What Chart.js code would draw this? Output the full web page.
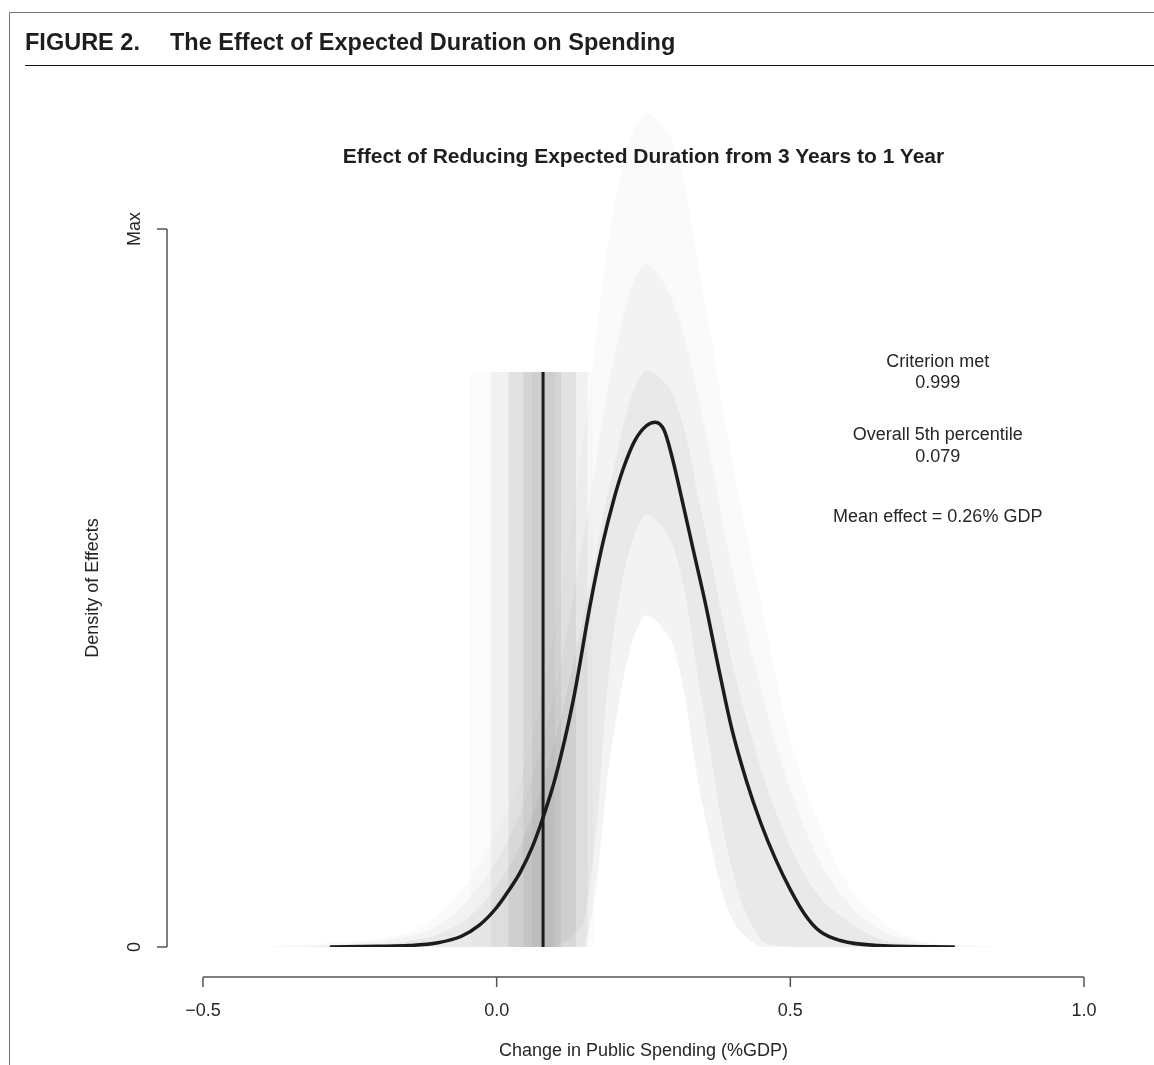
<!DOCTYPE html>
<html>
<head>
<meta charset="utf-8">
<script src="https://cdn.jsdelivr.net/npm/chart.js@4"></script>
<style>
    body { margin: 0; background: #fff; }
    #page { position: relative; width: 1154px; height: 1065px; overflow: hidden; font-family: "Liberation Sans", Arial, sans-serif; color: #1e1e1e; }
    #frame { position: absolute; left: 9px; top: 12px; right: -5px; bottom: -5px; border-left: 1.5px solid #777; border-top: 1.5px solid #777; }
    #fig-title { position: absolute; left: 25px; top: 30px; font-weight: bold; font-size: 23.5px; line-height: 24px; white-space: nowrap; }
    #fig-title .num { display: inline-block; width: 145px; }
    #rule { position: absolute; left: 25px; right: 0; top: 65px; border-top: 1.5px solid #111; }
    #plot-title { position: absolute; left: 203px; width: 881px; top: 143px; text-align: center; font-weight: bold; font-size: 21px; line-height: 26px; white-space: nowrap; }
    #chart { position: absolute; left: 0; top: 0; }
</style>
</head>
<body>
<div id="page">
    <canvas id="chart" width="1154" height="1065"></canvas>
    <div id="frame"></div>
    <div id="fig-title"><span class="num">FIGURE 2.</span>The Effect of Expected Duration on Spending</div>
    <div id="rule"></div>
    <div id="plot-title">Effect of Reducing Expected Duration from 3 Years to 1 Year</div>
</div>
<script>
// mean density of the simulated effects (x in % GDP, height as share of Max)
var meanX = [-0.284, -0.2, -0.15, -0.1, -0.06, -0.03, 0.0, 0.02, 0.04, 0.06, 0.078, 0.1, 0.13, 0.16, 0.18, 0.2,
    0.215, 0.235, 0.255, 0.27, 0.285, 0.3, 0.315, 0.335, 0.355, 0.375, 0.4, 0.425, 0.45, 0.475, 0.5, 0.525,
    0.55, 0.585, 0.65, 0.78];
var meanDensity = [0, 0.001, 0.002, 0.006, 0.015, 0.03, 0.055, 0.078, 0.104, 0.138, 0.178, 0.236, 0.342, 0.48, 0.56, 0.625,
    0.665, 0.705, 0.726, 0.731, 0.72, 0.678, 0.625, 0.552, 0.48, 0.4, 0.305, 0.232, 0.172, 0.122, 0.08, 0.045,
    0.022, 0.009, 0.002, 0];

// spread of the individual simulated densities (grey cloud)
var cloudX = [-0.4, -0.35, -0.3, -0.25, -0.2, -0.15, -0.1, -0.05, 0.0, 0.05, 0.1, 0.15, 0.2, 0.25,
    0.3, 0.35, 0.4, 0.45, 0.5, 0.55, 0.6, 0.65, 0.7, 0.75, 0.8, 0.85, 0.9];
var cloudOuter = [0, 0.002, 0.005, 0.008, 0.012, 0.02, 0.045, 0.09, 0.16, 0.26, 0.45, 0.72, 1.03, 1.16,
    1.12, 0.92, 0.68, 0.48, 0.29, 0.17, 0.085, 0.04, 0.015, 0.004, 0.002, 0.001, 0];
var cloudMiddle = [0, 0.001, 0.002, 0.005, 0.008, 0.015, 0.03, 0.065, 0.12, 0.21, 0.36, 0.58, 0.82, 0.95,
    0.9, 0.74, 0.53, 0.36, 0.22, 0.12, 0.06, 0.025, 0.01, 0.003, 0.001, 0, 0];
var cloudNear = [0, 0, 0.001, 0.002, 0.004, 0.008, 0.018, 0.04, 0.085, 0.16, 0.29, 0.47, 0.67, 0.8,
    0.77, 0.6, 0.4, 0.25, 0.14, 0.07, 0.035, 0.012, 0.004, 0.001, 0, 0, 0];
// lower edges of the cloud: the white pocket under the peak
var cloudFloor = [0, 0, 0, 0, 0, 0, 0, 0, 0, 0, 0, 0, 0.3, 0.46,
    0.42, 0.2, 0.04, 0, 0, 0, 0, 0, 0, 0, 0, 0, 0];
var cloudFloorHigh = [0, 0, 0, 0, 0, 0, 0, 0, 0, 0, 0, 0.04, 0.44, 0.6,
    0.56, 0.34, 0.11, 0.01, 0, 0, 0, 0, 0, 0, 0, 0, 0];

// overall 5th percentile and the spread of the per-draw 5th percentiles
var percentile5 = 0.079;
var percentileHeight = 0.801;
var bandLow = [-0.045, -0.01, 0.02, 0.045, 0.06];
var bandHigh = [0.165, 0.155, 0.135, 0.11, 0.1];

var xTicks = [-0.5, 0.0, 0.5, 1.0];
var xTickLabels = ['\u22120.5', '0.0', '0.5', '1.0'];
var yTicks = [0, 1];
var yTickLabels = ['0', 'Max'];
var notes = ['Criterion met', '0.999', 'Overall 5th percentile', '0.079', 'Mean effect = 0.26% GDP'];

function pairs(xs, ys) {
    return xs.map(function (x, i) { return { x: x, y: ys[i] }; });
}

var bandShades = [0.02, 0.05, 0.075, 0.08, 0.06];
var datasets = [];

// cloud: datasets 0 and 1 are the lower edges, the others fill down to them
datasets.push({ data: pairs(cloudX, cloudFloor), borderWidth: 0, pointRadius: 0, fill: false, order: 7, tension: 0.35 });
datasets.push({ data: pairs(cloudX, cloudFloorHigh), borderWidth: 0, pointRadius: 0, fill: false, order: 7, tension: 0.35 });
datasets.push({ data: pairs(cloudX, cloudOuter), borderWidth: 0, pointRadius: 0, fill: 0, backgroundColor: 'rgba(0,0,0,0.018)', order: 5, tension: 0.35 });
datasets.push({ data: pairs(cloudX, cloudMiddle), borderWidth: 0, pointRadius: 0, fill: 0, backgroundColor: 'rgba(0,0,0,0.03)', order: 4, tension: 0.35 });
datasets.push({ data: pairs(cloudX, cloudNear), borderWidth: 0, pointRadius: 0, fill: 1, backgroundColor: 'rgba(0,0,0,0.045)', order: 3, tension: 0.35 });

bandLow.forEach(function (lo, i) {
    datasets.push({
        data: [{ x: lo, y: percentileHeight }, { x: bandHigh[i], y: percentileHeight }],
        borderWidth: 0, pointRadius: 0, fill: 'origin',
        backgroundColor: 'rgba(60,60,60,' + bandShades[i] + ')', order: 2
    });
});

datasets.push({
    data: [{ x: percentile5, y: 0 }, { x: percentile5, y: percentileHeight }],
    borderColor: '#1c1c1c', borderWidth: 3, pointRadius: 0, fill: false, order: 1
});
datasets.push({
    data: pairs(meanX, meanDensity),
    borderColor: '#1c1c1c', borderWidth: 3.5, pointRadius: 0, fill: false, order: 0,
    cubicInterpolationMode: 'monotone'
});

// R style axes, detached from the plot region
var rAxes = {
    id: 'rAxes',
    afterDraw: function (chart) {
        var ctx = chart.ctx;
        var xs = chart.scales.x, ys = chart.scales.y;
        var gap = 36, xgap = 30, tick = 10;
        var axisX = xs.getPixelForValue(xTicks[0]) - gap;
        var axisY = ys.getPixelForValue(0) + xgap;
        ctx.save();
        ctx.strokeStyle = '#555';
        ctx.lineWidth = 1.5;
        ctx.fillStyle = '#262626';
        ctx.font = '18px "Liberation Sans", Arial, sans-serif';

        // x axis
        ctx.beginPath();
        ctx.moveTo(xs.getPixelForValue(xTicks[0]), axisY);
        ctx.lineTo(xs.getPixelForValue(xTicks[xTicks.length - 1]), axisY);
        xTicks.forEach(function (t) {
            var px = xs.getPixelForValue(t);
            ctx.moveTo(px, axisY);
            ctx.lineTo(px, axisY + tick);
        });
        ctx.stroke();
        ctx.textAlign = 'center';
        ctx.textBaseline = 'middle';
        xTicks.forEach(function (t, i) {
            ctx.fillText(xTickLabels[i], xs.getPixelForValue(t), axisY + 34);
        });
        ctx.fillText('Change in Public Spending (%GDP)', (xs.left + xs.right) / 2, axisY + 74);

        // y axis, from 0 to Max only
        ctx.beginPath();
        ctx.moveTo(axisX, ys.getPixelForValue(yTicks[0]));
        ctx.lineTo(axisX, ys.getPixelForValue(yTicks[yTicks.length - 1]));
        yTicks.forEach(function (t) {
            var py = ys.getPixelForValue(t);
            ctx.moveTo(axisX, py);
            ctx.lineTo(axisX - tick, py);
        });
        ctx.stroke();
        yTicks.forEach(function (t, i) {
            ctx.save();
            ctx.translate(axisX - 32, ys.getPixelForValue(t));
            ctx.rotate(-Math.PI / 2);
            ctx.fillText(yTickLabels[i], 0, 0);
            ctx.restore();
        });
        ctx.save();
        ctx.translate(axisX - 74, (ys.getPixelForValue(0) + ys.getPixelForValue(1)) / 2);
        ctx.rotate(-Math.PI / 2);
        ctx.fillText('Density of Effects', 0, 0);
        ctx.restore();

        // notes on the right
        var nx = xs.getPixelForValue(0.751);
        var ny = [0.815, 0.786, 0.713, 0.683, 0.599];
        notes.forEach(function (n, i) {
            ctx.fillText(n, nx, ys.getPixelForValue(ny[i]));
        });
        ctx.restore();
    }
};

new Chart(document.getElementById('chart').getContext('2d'), {
    type: 'line',
    data: { datasets: datasets },
    options: {
        responsive: false,
        animation: false,
        devicePixelRatio: 1,
        // y runs past Max so the faint cloud can rise above the axis top, as in the original
        layout: { padding: { left: 203, right: 70, top: 85.4, bottom: 118 } },
        plugins: {
            legend: { display: false },
            tooltip: { enabled: false },
            title: { display: false }
        },
        scales: {
            x: { type: 'linear', min: -0.5, max: 1.0, display: false },
            y: { type: 'linear', min: 0, max: 1.2, display: false }
        }
    },
    plugins: [rAxes]
});
</script>
</body>
</html>
